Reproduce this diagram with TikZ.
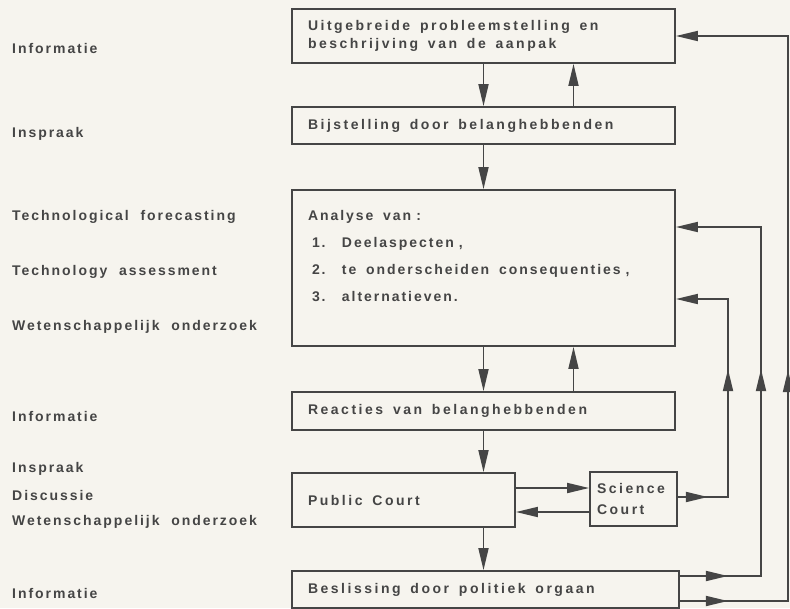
\documentclass[tikz,border=0pt]{standalone}
\usepackage{fontspec}
\setmainfont{Liberation Sans Bold}[LetterSpace=14, WordSpace=2]
\usetikzlibrary{arrows.meta}
\usetikzlibrary{decorations.markings}

\definecolor{paper}{HTML}{F6F4EE}
\definecolor{ink}{HTML}{454545}

\begin{document}
\begin{tikzpicture}[x=1pt, y=-1pt,
  every node/.style={font=\fontsize{14}{18}\selectfont, text=ink},
  box/.style={rectangle, draw=ink, line width=1.8pt, text width=351pt, inner xsep=16pt, inner ysep=0pt,
    execute at begin node={\addfontfeatures{LetterSpace=18}\spaceskip=9.8pt\relax}},
  lbl/.style={anchor=base west, inner sep=0pt},
  flow/.style={draw=ink, line width=1.8pt, -{Triangle[length=22pt,width=10pt]}},
  midtip/.style={postaction={decorate, decoration={markings, mark=at position #1 with {\arrow[ink]{Triangle[length=22pt,width=10pt]}}}}}]
\fill[paper] (0,0) rectangle (790,608);
\useasboundingbox (0,0) rectangle (790,608);
% steps
\node at (483.5, 36)   (probleem) [box, minimum height=54pt] {Uitgebreide probleemstelling en\\beschrijving van de aanpak};
\node at (483.5, 125.5) (bijstel) [box, minimum height=37pt] {Bijstelling door belanghebbenden};
\node at (483.5, 268)  (analyse)  [box, minimum height=156pt] {\parbox[c][156pt][t]{351pt}{\fontsize{14}{27}\selectfont
  \addfontfeatures{LetterSpace=14}\spaceskip=9.8pt\relax
  \rule{0pt}{30pt}Analyse van\hspace{5pt}:\\
  \makebox[34pt][l]{\hspace{4pt}1.}Deelaspecten\hspace{5pt},\\
  \makebox[34pt][l]{\hspace{4pt}2.}te onderscheiden consequenties\hspace{5pt},\\
  \makebox[34pt][l]{\hspace{4pt}3.}alternatieven.}};
\node at (483.5, 411)  (reacties) [box, minimum height=38pt] {Reacties van belanghebbenden};
\node at (403.5, 500)  (public)   [box, text width=191pt, minimum height=54pt] {Public Court};
\node at (633.5, 499)  (science)  [box, text width=73pt, inner xsep=7pt, minimum height=54pt,
  font=\fontsize{14}{21}\selectfont] {Science\\Court};
\node at (485.5, 589.5) (beslis)  [box, text width=355pt, minimum height=37pt] {Beslissing door politiek orgaan};
% left column
\node at (12, 53)  (info1)  [lbl] {Informatie};
\node at (12, 137) (insp1)  [lbl] {Inspraak};
\node at (12, 220) (techf)  [lbl] {Technological forecasting};
\node at (12, 275) (techa)  [lbl] {Technology assessment};
\node at (12, 330) (weten1) [lbl] {Wetenschappelijk onderzoek};
\node at (12, 421) (info2)  [lbl] {Informatie};
\node at (12, 472) (insp2)  [lbl] {Inspraak};
\node at (12, 500) (disc)   [lbl] {Discussie};
\node at (12, 525) (weten2) [lbl] {Wetenschappelijk onderzoek};
\node at (12, 598) (info3)  [lbl] {Informatie};
% arrows
\draw [flow] (probleem.south) -- (bijstel.north);
\draw [flow] ([xshift=90pt]bijstel.north) -- ([xshift=90pt]probleem.south);
\draw [flow] (bijstel.south) -- (analyse.north);
\draw [flow] (analyse.south) -- (reacties.north);
\draw [flow] ([xshift=90pt]reacties.north) -- ([xshift=90pt]analyse.south);
\draw [flow] (reacties.south) -- (reacties.south |- public.north);
\draw [flow] (reacties.south |- public.south) -- (reacties.south |- beslis.north);
\draw [flow] ([yshift=12pt]public.east) -- ([yshift=12pt]public.east -| science.west);
\draw [flow] ([yshift=-13pt]science.west) -- ([yshift=-13pt]science.west -| public.east);
% feedback
\coordinate (sc1) at (728, 497);
\coordinate (sc2) at (728, 299);
\draw [flow, midtip=30pt, midtip=178pt] (science.east |- sc1) -- (sc1) -- (sc2) -- (sc2 -| analyse.east);
\coordinate (bo1) at (761, 576);
\coordinate (bo2) at (761, 227);
\draw [flow, midtip=48pt, midtip=288pt] (beslis.east |- bo1) -- (bo1) -- (bo2) -- (bo2 -| analyse.east);
\coordinate (bu1) at (788, 601);
\coordinate (bu2) at (788, 36);
\draw [flow, midtip=48pt, midtip=339pt] (beslis.east |- bu1) -- (bu1) -- (bu2) -- (probleem.east);
\end{tikzpicture}
\end{document}
